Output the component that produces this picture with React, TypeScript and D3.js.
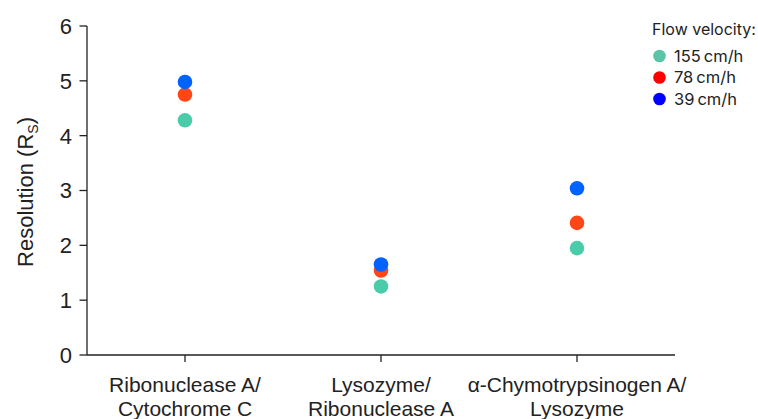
import React from "react";
import * as d3 from "d3";

const categories = [
  ["Ribonuclease A/", "Cytochrome C"],
  ["Lysozyme/", "Ribonuclease A"],
  ["α-Chymotrypsinogen A/", "Lysozyme"],
];
const seriesNames = ["155\u2009cm/h", "78\u2009cm/h", "39\u2009cm/h"];
const v155 = [4.28, 1.25, 1.95];
const v78 = [4.75, 1.54, 2.41];
const v39 = [4.98, 1.65, 3.04];
const yTicks = [0, 1, 2, 3, 4, 5, 6];
const pointColors = ["#4ACBA9", "#FF4616", "#0063FF"];
const legendColors = ["#5BC4A8", "#FF0000", "#0000FF"];

export default function App() {
  const W = 758, H = 419;
  const x0 = 87, x1 = 675, yTop = 26, yBot = 355;
  const x = d3.scalePoint<number>().domain([0, 1, 2]).range([x0, x1]).padding(0.5);
  const y = d3.scaleLinear().domain([0, 6]).range([yBot, yTop]);
  const series = [v155, v78, v39];
  const font = "'Liberation Sans', Arial, Helvetica, sans-serif";
  const legendFont = "Inter, 'Noto Sans', sans-serif";
  const axisColor = "#222";
  return (
    <svg width={W} height={H} style={{ position: "absolute", left: 0, top: 0 }} fontFamily={font}>
      <rect width={W} height={H} fill="#fff" />
      {/* y axis */}
      <line x1={x0} x2={x0} y1={yTop} y2={yBot} stroke={axisColor} strokeWidth={1.3} />
      {yTicks.map((t) => (
        <g key={t}>
          <line x1={x0 - 7.5} x2={x0} y1={y(t)} y2={y(t)} stroke={axisColor} strokeWidth={1.3} />
          <text x={x0 - 15} y={y(t)} dy="0.36em" textAnchor="end" fontSize={22} fill="#222">{t}</text>
        </g>
      ))}
      {/* x axis */}
      <line x1={x0} x2={x1} y1={yBot} y2={yBot} stroke={axisColor} strokeWidth={1.3} />
      {categories.map((c, i) => (
        <g key={i}>
          <line x1={x(i)} x2={x(i)} y1={yBot} y2={yBot + 7} stroke={axisColor} strokeWidth={1.3} />
          <text x={x(i)} y={392} textAnchor="middle" fontSize={21} fill="#222">{c[0]}</text>
          <text x={x(i)} y={416} textAnchor="middle" fontSize={21} fill="#222">{c[1]}</text>
        </g>
      ))}
      {/* y label */}
      <text transform={`translate(33,192) rotate(-90)`} textAnchor="middle" fontSize={22} fill="#222">
        Resolution (R<tspan fontSize={14} dy={5}>S</tspan><tspan dy={-5}>)</tspan>
      </text>
      {/* points */}
      {series.map((s, si) =>
        s.map((v, i) => (
          <circle key={`${si}-${i}`} cx={x(i)} cy={y(v)} r={7.3} fill={pointColors[si]} />
        ))
      )}
      {/* legend */}
      <text x={652} y={35} fontSize={16} fill="#222" fontFamily={legendFont}>Flow velocity:</text>
      {seriesNames.map((n, i) => (
        <g key={n}>
          <circle cx={659.5} cy={56 + i * 21.5} r={6.3} fill={legendColors[i]} />
          <text x={674} y={56 + i * 21.5} dy="0.36em" fontSize={16.5} fill="#222" fontFamily={legendFont}>{n}</text>
        </g>
      ))}
    </svg>
  );
}
